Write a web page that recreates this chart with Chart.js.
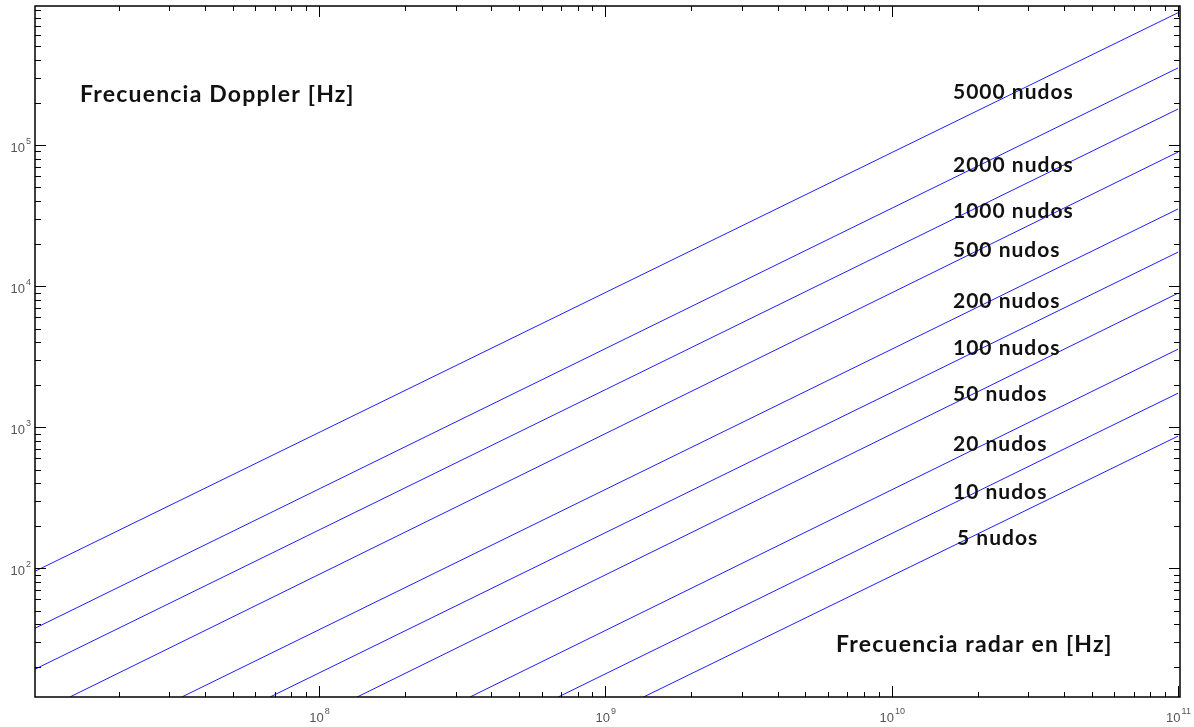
<!DOCTYPE html>
<html>
<head>
<meta charset="utf-8">
<script src="https://cdn.jsdelivr.net/npm/chart.js@4"></script>
<style>
  html, body { margin: 0; padding: 0; background: #ffffff; }
  canvas { display: block; }
</style>
</head>
<body>
<canvas id="dopplerChart" width="1194" height="727"></canvas>
<script>
"use strict";

// velocities (knots) shown as line labels
const speedLabels = ["5000 nudos", "2000 nudos", "1000 nudos", "500 nudos", "200 nudos",
    "100 nudos", "50 nudos", "20 nudos", "10 nudos", "5 nudos"];

// visible start of each line (radar frequency Hz, doppler Hz)
const startRadar = [1.02e7, 1.02e7, 1.02e7, 1.35e7, 3.32e7, 6.75e7, 1.36e8, 3.37e8, 6.85e8, 1.36e9];
const startDoppler = [95, 37.5, 19.2, 12.2, 12.2, 12.2, 12.2, 12.2, 12.2, 12.2];

// visible end of each line
const endRadar = [1e11, 1e11, 1e11, 1e11, 1e11, 1e11, 1e11, 1e11, 1e11, 1e11];
const endDoppler = [8.67e5, 3.52e5, 1.80e5, 8.92e4, 3.52e4, 1.74e4, 8.9e3, 3.57e3, 1.74e3, 863];

// axis ranges and labelled decades
const radarRange = [1.02e7, 1.016e11];
const dopplerRange = [12.2, 9.68e5];
const radarDecades = [8, 9, 10, 11];
const dopplerDecades = [2, 3, 4, 5];

const titleText = "Frecuencia Doppler [Hz]";
const xTitleText = "Frecuencia radar en [Hz]";

(() => {

    const datasets = speedLabels.map((label, i) => {
        return {
            label: label,
            data: [
                {x: startRadar[i], y: startDoppler[i]},
                {x: endRadar[i], y: endDoppler[i]}
            ],
            borderColor: "#1f1fff",
            borderWidth: 1,
            pointRadius: 0,
            fill: false,
            tension: 0
        };
    });

    function drawPower(ctx, x, y, exp, align) {
        ctx.fillStyle = "#555555";
        ctx.textBaseline = "alphabetic";
        ctx.font = "13px 'Liberation Sans', Arial, sans-serif";
        let baseW = ctx.measureText("10").width;
        ctx.font = "9px 'Liberation Sans', Arial, sans-serif";
        let expW = ctx.measureText(String(exp)).width;
        let left;
        if (align === "center") {
            left = x - (baseW + expW) / 2;
        } else {
            left = x - baseW - expW;
        }
        ctx.font = "13px 'Liberation Sans', Arial, sans-serif";
        ctx.textAlign = "left";
        ctx.fillText("10", left, y);
        ctx.font = "9px 'Liberation Sans', Arial, sans-serif";
        ctx.fillText(String(exp), left + baseW + 1, y - 8);
    }

    const framePlugin = {
        id: "frame",
        afterDraw(chart) {
            const ctx = chart.ctx;
            const area = chart.chartArea;
            const xs = chart.scales.x;
            const ys = chart.scales.y;

            ctx.save();
            ctx.strokeStyle = "#000000";
            ctx.lineWidth = 1.5;
            ctx.strokeRect(area.left, area.top, area.right - area.left, area.bottom - area.top);

            ctx.lineWidth = 1;
            ctx.beginPath();
            // x ticks, bottom and top, pointing inwards
            for (let d = 7; d <= 11; d++) {
                for (let m = 1; m <= 9; m++) {
                    let v = m * Math.pow(10, d);
                    if (v < radarRange[0] || v > radarRange[1]) continue;
                    let px = Math.round(xs.getPixelForValue(v)) + 0.5;
                    let len = m === 1 ? 11 : 5;
                    ctx.moveTo(px, area.bottom);
                    ctx.lineTo(px, area.bottom - len);
                    ctx.moveTo(px, area.top);
                    ctx.lineTo(px, area.top + len);
                }
            }
            // y ticks, left and right
            for (let d = 1; d <= 5; d++) {
                for (let m = 1; m <= 9; m++) {
                    let v = m * Math.pow(10, d);
                    if (v < dopplerRange[0] || v > dopplerRange[1]) continue;
                    let py = Math.round(ys.getPixelForValue(v)) + 0.5;
                    let len = m === 1 ? 11 : 6;
                    ctx.moveTo(area.left, py);
                    ctx.lineTo(area.left + len, py);
                    ctx.moveTo(area.right, py);
                    ctx.lineTo(area.right - len, py);
                }
            }
            ctx.stroke();

            radarDecades.forEach((d) => {
                drawPower(ctx, xs.getPixelForValue(Math.pow(10, d)), area.bottom + 25, d, "center");
            });
            dopplerDecades.forEach((d) => {
                drawPower(ctx, area.left - 5, ys.getPixelForValue(Math.pow(10, d)) + 7, d, "right");
            });

            // annotations
            ctx.fillStyle = "#111111";
            ctx.textAlign = "left";
            ctx.textBaseline = "middle";
            ctx.font = "bold 23px Lato, 'Open Sans', sans-serif";
            ctx.letterSpacing = "1.2px";
            ctx.fillText(titleText, area.left + 45, area.top + 89);
            ctx.fillText(xTitleText, area.left + 801, area.top + 639);

            ctx.font = "bold 21px Lato, 'Open Sans', sans-serif";
            ctx.letterSpacing = "1px";
            const labelRows = [92, 165, 211, 250, 301, 348, 394, 444, 492, 538];
            speedLabels.forEach((label, i) => {
                let lx = i === speedLabels.length - 1 ? 957 : 953;
                ctx.fillText(label, lx, labelRows[i]);
            });
            ctx.letterSpacing = "0px";
            ctx.restore();
        }
    };

    new Chart(document.getElementById("dopplerChart"), {
        type: "line",
        data: {datasets: datasets},
        options: {
            responsive: false,
            animation: false,
            devicePixelRatio: 1,
            layout: {padding: {left: 35, right: 14, top: 6, bottom: 30}},
            plugins: {
                legend: {display: false},
                tooltip: {enabled: false}
            },
            scales: {
                x: {
                    type: "logarithmic",
                    min: radarRange[0],
                    max: radarRange[1],
                    display: false
                },
                y: {
                    type: "logarithmic",
                    min: dopplerRange[0],
                    max: dopplerRange[1],
                    display: false
                }
            }
        },
        plugins: [framePlugin]
    });

})();
</script>
</body>
</html>
